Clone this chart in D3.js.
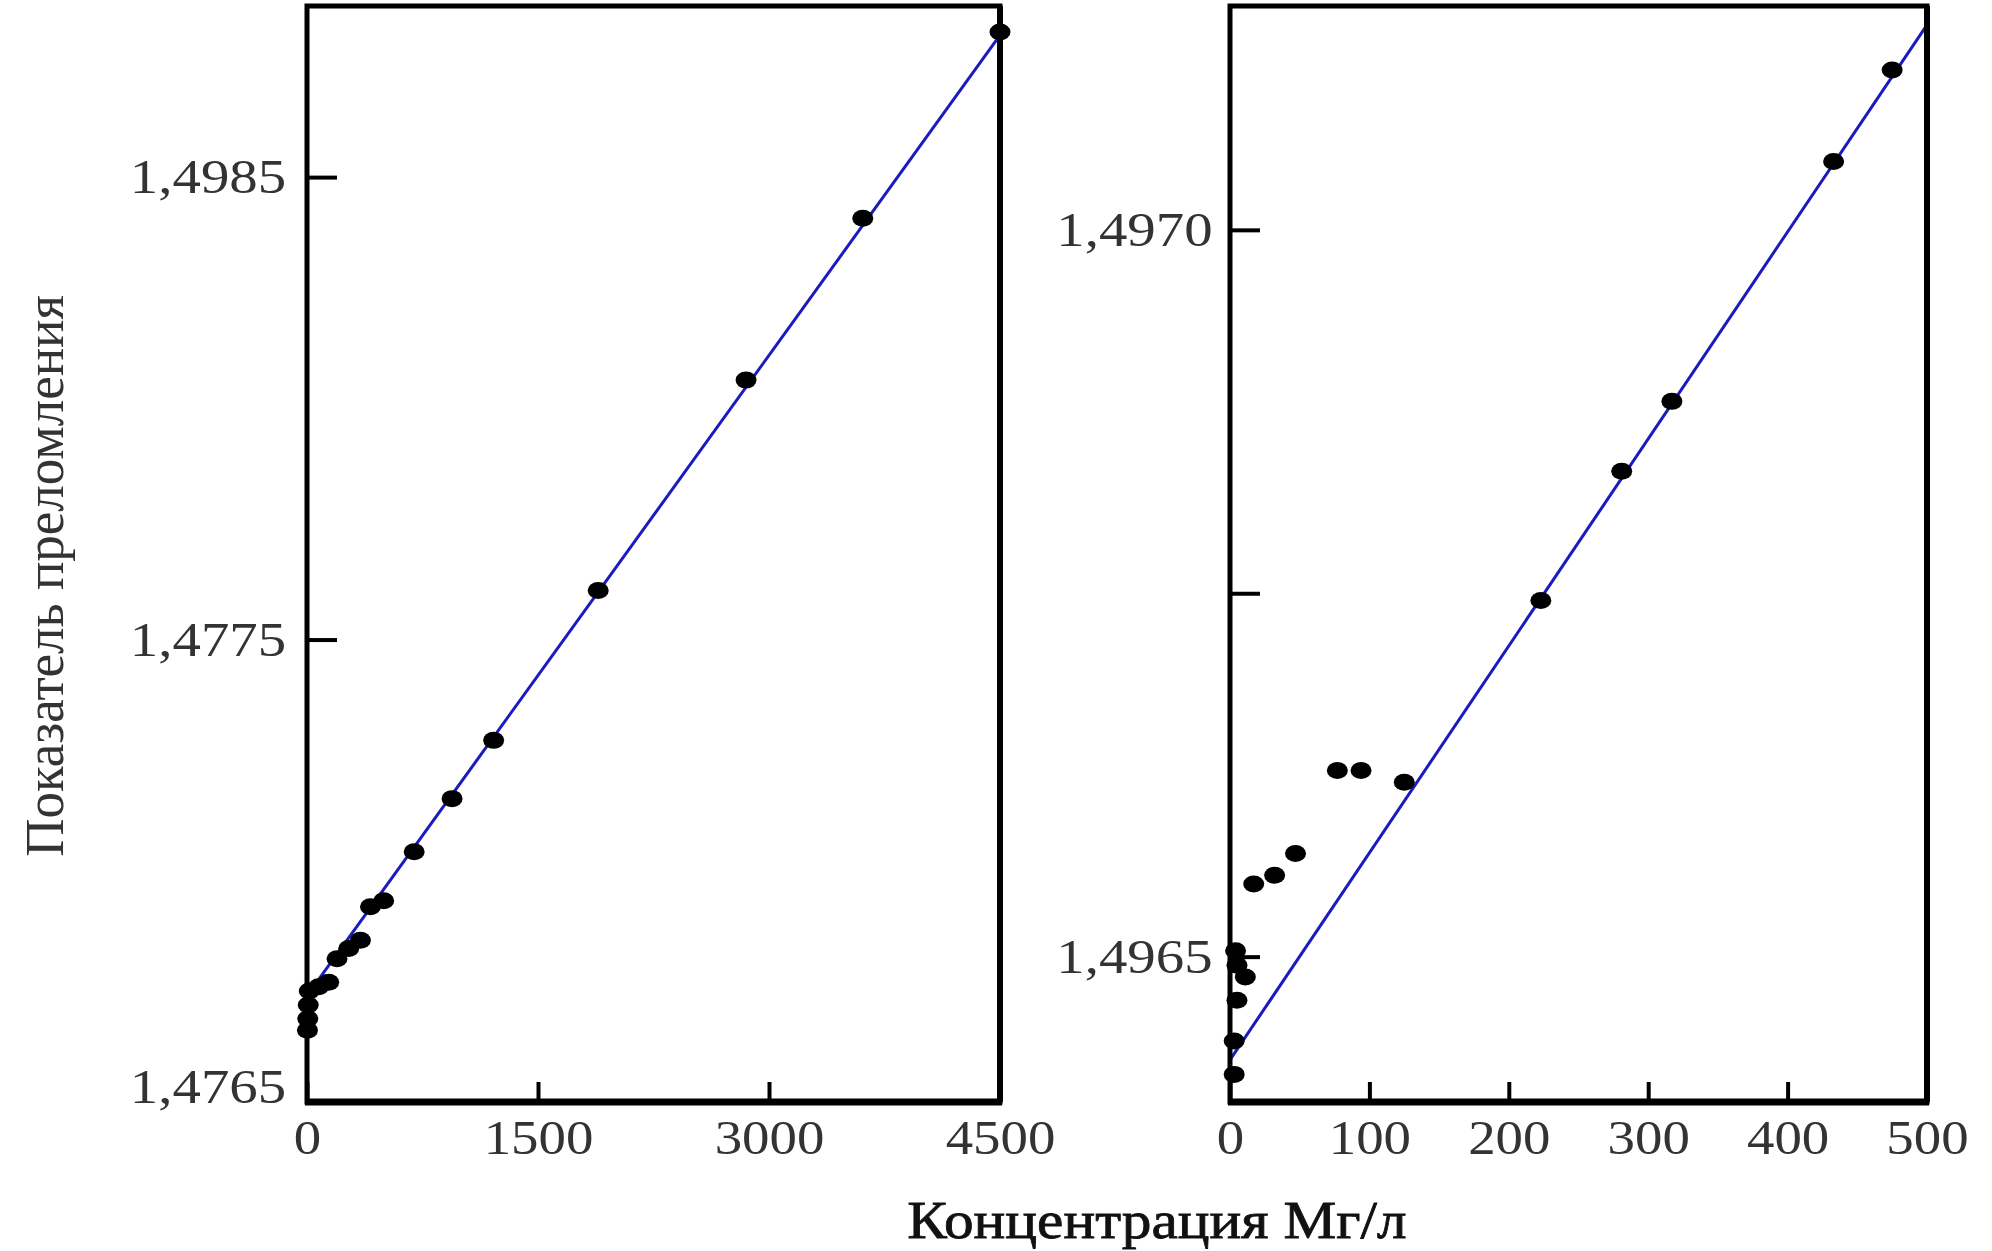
<!DOCTYPE html>
<html>
<head>
<meta charset="utf-8">
<script src="https://cdn.jsdelivr.net/npm/d3@7"></script>
<style>
  html, body { margin: 0; padding: 0; background: #ffffff; }
  svg { display: block; }
  text { font-family: "Liberation Serif", "DejaVu Serif", serif; }
</style>
</head>
<body>
<script>
// ---------- data ----------
const yTitle = "Показатель преломления";
const xTitle = "Концентрация Мг/л";

// left panel
const leftX = [4500, 3609, 2851, 1891, 1212, 942, 696, 498, 412, 347, 271, 195, 141, 76, 15, 8, 5, 3];
const leftY = [1.478814, 1.478411, 1.478061, 1.477606, 1.477282, 1.477156, 1.477041, 1.476935, 1.476922,
               1.476850, 1.476832, 1.476810, 1.476759, 1.476749, 1.476740, 1.476710, 1.476680, 1.476655];
const leftFitX = [0, 4500];
const leftFitY = [1.476730, 1.478807];
const leftXTicks = [0, 1500, 3000, 4500];
const leftXTickLabels = ["0", "1500", "3000", "4500"];
const leftYTicks = [1.4765, 1.4775, 1.4785];
const leftYTickLabels = ["1,4765", "1,4775", "1,4985"];

// right panel
const rightX = [475, 433, 317, 281, 223, 125, 94, 77, 47, 32, 17, 4, 5, 11, 5, 3, 3];
const rightY = [1.497110, 1.497047, 1.496882, 1.496834, 1.496745, 1.496620, 1.496628, 1.496628, 1.496571,
                1.496556, 1.496550, 1.496504, 1.496494, 1.496486, 1.496470, 1.496442, 1.496419];
const rightFitX = [0, 500];
const rightFitY = [1.496429, 1.497141];
const rightXTicks = [0, 100, 200, 300, 400, 500];
const rightXTickLabels = ["0", "100", "200", "300", "400", "500"];
const rightYTicks = [1.4965, 1.49675, 1.4970];
const rightYTickLabels = ["1,4965", "", "1,4970"];

// ---------- layout ----------
const W = 1992, H = 1251;
const TOP = 6, BOTTOM = 1102;
const STRETCH = 1.12;       // the source picture is stretched horizontally
const FONT = 49;

const svg = d3.select("body").append("svg").attr("width", W).attr("height", H);
svg.append("rect").attr("width", W).attr("height", H).attr("fill", "#ffffff");

function panel(cfg) {
  const x = d3.scaleLinear().domain(cfg.xDomain).range([cfg.x0, cfg.x1]);
  const y = d3.scaleLinear().domain(cfg.yDomain).range([BOTTOM, TOP]);
  const g = svg.append("g");

  // x axis (ticks inward)
  const xa = g.append("g").attr("transform", `translate(0,${BOTTOM})`)
    .call(d3.axisBottom(x).tickValues(cfg.xTicks)
      .tickFormat((d, i) => cfg.xTickLabels[i])
      .tickSizeInner(-20).tickSizeOuter(0).tickPadding(17));
  xa.select(".domain").remove();
  xa.selectAll(".tick line").attr("stroke", "#000").attr("stroke-width", 4);
  xa.selectAll(".tick text").attr("font-size", FONT).attr("fill", "#333")
    .attr("transform", `scale(${STRETCH},1)`);

  // y axis (ticks inward)
  const ya = g.append("g").attr("transform", `translate(${cfg.x0},0)`)
    .call(d3.axisLeft(y).tickValues(cfg.yTicks)
      .tickFormat((d, i) => cfg.yTickLabels[i])
      .tickSizeInner(-30).tickSizeOuter(0).tickPadding(cfg.yPad));
  ya.select(".domain").remove();
  ya.selectAll(".tick line").attr("stroke", "#000").attr("stroke-width", 4);
  ya.selectAll(".tick text").attr("font-size", FONT).attr("fill", "#333")
    .attr("y", (d, i) => cfg.yLabelShift[i])
    .attr("transform", `scale(${STRETCH + 0.04},1)`);

  // fit line
  const line = d3.line().x(d => x(d[0])).y(d => y(d[1]));
  g.append("path").datum(cfg.fitX.map((v, i) => [v, cfg.fitY[i]]))
    .attr("d", line).attr("fill", "none")
    .attr("stroke", "#1a1abf").attr("stroke-width", 3);

  // points
  g.selectAll("ellipse.pt").data(cfg.px.map((v, i) => [v, cfg.py[i]])).enter()
    .append("ellipse").attr("class", "pt")
    .attr("cx", d => x(d[0])).attr("cy", d => y(d[1]))
    .attr("rx", 10.5).attr("ry", 8.5).attr("fill", "#000");

  // frame
  g.append("rect").attr("x", cfg.x0).attr("y", TOP)
    .attr("width", cfg.x1 - cfg.x0).attr("height", BOTTOM - TOP)
    .attr("fill", "none").attr("stroke", "#000").attr("stroke-width", 5);
  g.append("line").attr("x1", cfg.x0 - 2).attr("x2", cfg.x1 + 2)
    .attr("y1", BOTTOM).attr("y2", BOTTOM)
    .attr("stroke", "#000").attr("stroke-width", 7);
  g.append("line").attr("x1", cfg.x1).attr("x2", cfg.x1)
    .attr("y1", TOP).attr("y2", BOTTOM)
    .attr("stroke", "#000").attr("stroke-width", 6);
}

panel({
  x0: 307, x1: 1000,
  xDomain: [0, 4500], yDomain: [1.4765, 1.478870],
  xTicks: leftXTicks, xTickLabels: leftXTickLabels,
  yTicks: leftYTicks, yTickLabels: leftYTickLabels,
  yPad: 18, yLabelShift: [-15, 0, 0],
  fitX: leftFitX, fitY: leftFitY,
  px: leftX, py: leftY
});

panel({
  x0: 1230, x1: 1927,
  xDomain: [0, 500], yDomain: [1.496400, 1.497154],
  xTicks: rightXTicks, xTickLabels: rightXTickLabels,
  yTicks: rightYTicks, yTickLabels: rightYTickLabels,
  yPad: 15, yLabelShift: [0, 0, 0],
  fitX: rightFitX, fitY: rightFitY,
  px: rightX, py: rightY
});

// axis titles
svg.append("text")
  .attr("transform", `translate(45,576) scale(1.05,1) rotate(-90)`)
  .attr("text-anchor", "middle").attr("dominant-baseline", "central")
  .attr("font-size", 53).attr("fill", "#333")
  .text(yTitle);

svg.append("text")
  .attr("transform", `translate(1157,1238) scale(1.12,1)`)
  .attr("text-anchor", "middle")
  .attr("font-size", 53).attr("fill", "#111")
  .attr("stroke", "#111").attr("stroke-width", 0.8)
  .text(xTitle);
</script>
</body>
</html>
